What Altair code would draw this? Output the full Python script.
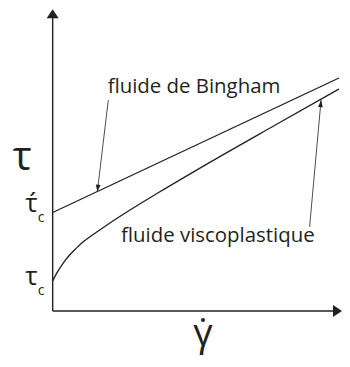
import altair as alt
import pandas as pd

# ---- data (conceptual units: shear rate on x, shear stress tau on y) ----
bingham_x = [0.0, 10.0]
bingham_tau = [4.21, 9.96]

visco_x = [0.0, 0.137, 0.363, 0.592, 0.821, 1.047, 1.389, 1.847, 2.645, 3.671, 5.040, 7.776, 10.0]
visco_tau = [1.282, 1.611, 2.038, 2.393, 2.679, 2.936, 3.248, 3.637, 4.274, 5.043, 6.034, 7.949, 9.487]

label_text = ["fluide de Bingham", "fluide viscoplastique"]
label_x = [1.92, 2.39]
label_tau = [9.30, 2.96]

leader_x0 = [1.943, 8.974]
leader_tau0 = [9.017, 3.603]
leader_x1 = [1.560, 9.374]
leader_tau1 = [5.098, 9.017]
leader_angle = [187, 5]

axis_x_end = 10.105
axis_tau_end = 12.9

X_DOMAIN = [-1.56, 10.105]
Y_DOMAIN = [-2.05, 12.95]

INK = "#231f20"
FONT = "Open Sans"

xs = alt.Scale(domain=X_DOMAIN, nice=False, zero=False)
ys = alt.Scale(domain=Y_DOMAIN, nice=False, zero=False)


def X(f="x"):
    return alt.X(f"{f}:Q", scale=xs, axis=None)


def Y(f="y"):
    return alt.Y(f"{f}:Q", scale=ys, axis=None)


curves = pd.DataFrame(
    {"x": bingham_x + visco_x,
     "y": bingham_tau + visco_tau,
     "s": ["bingham"] * len(bingham_x) + ["visco"] * len(visco_x),
     "o": list(range(len(bingham_x))) + list(range(len(visco_x)))}
)

lines = alt.Chart(curves).mark_line(
    color=INK, strokeWidth=1.3, interpolate="monotone"
).encode(x=X(), y=Y(), detail="s:N", order="o:Q")

# axes
axes_df = pd.DataFrame({
    "x": [0.0, 0.0], "y": [0.0, 0.0],
    "x2": [0.0, axis_x_end - 0.25], "y2": [axis_tau_end - 0.3, 0.0]
})
axes = alt.Chart(axes_df).mark_rule(color=INK, strokeWidth=1.4).encode(
    x=X(), y=Y(), x2="x2:Q", y2="y2:Q"
)

head_shape = "M0,0L-0.67,1L0.67,1Z"
axis_heads_df = pd.DataFrame({"x": [0.0, axis_x_end], "y": [axis_tau_end, 0.0], "a": [0, 90]})
axis_heads = alt.Chart(axis_heads_df).mark_point(
    shape=head_shape, filled=True, color=INK, opacity=1, size=324
).encode(x=X(), y=Y(), angle=alt.Angle("a:Q", scale=None))

# leaders
leaders_df = pd.DataFrame({"x": leader_x0, "y": leader_tau0, "x2": leader_x1, "y2": leader_tau1,
                           "a": leader_angle})
leaders = alt.Chart(leaders_df).mark_rule(color=INK, strokeWidth=0.8).encode(
    x=X(), y=Y(), x2="x2:Q", y2="y2:Q"
)
leader_heads = alt.Chart(leaders_df).mark_point(
    shape="M0,0L-0.5,1.5L0.5,1.5Z", filled=True, color=INK, opacity=1, size=90
).encode(x=X("x2"), y=Y("y2"), angle=alt.Angle("a:Q", scale=None))

labels_df = pd.DataFrame({"x": label_x, "y": label_tau, "t": label_text})
labels = alt.Chart(labels_df).mark_text(
    align="left", baseline="alphabetic", font=FONT, fontSize=20.4, color=INK
).encode(x=X(), y=Y(), text="t:N")

# axis symbols
big_tau = alt.Chart(pd.DataFrame({"x": [-1.067], "y": [6.03], "t": ["τ"]})).mark_text(
    align="center", baseline="alphabetic", font=FONT, fontSize=40, color=INK
).encode(x=X(), y=Y(), text="t:N")

tau_small = alt.Chart(pd.DataFrame({"x": [-0.742, -0.742], "y": [4.23, 1.11], "t": ["τ́", "τ"]})).mark_text(
    align="center", baseline="alphabetic", font=FONT, fontSize=26, color=INK
).encode(x=X(), y=Y(), text="t:N")

subs = alt.Chart(pd.DataFrame({"x": [-0.52, -0.52], "y": [3.80, 0.68], "t": ["c", "c"]})).mark_text(
    align="left", baseline="alphabetic", font=FONT, fontSize=14, color=INK
).encode(x=X(), y=Y(), text="t:N")

gamma = alt.Chart(pd.DataFrame({"x": [5.25], "y": [-1.50], "t": ["γ"]})).mark_text(
    align="center", baseline="alphabetic", font=FONT, fontSize=38, color=INK
).encode(x=X(), y=Y(), text="t:N")

gamma_dot = alt.Chart(pd.DataFrame({"x": [5.25], "y": [-0.38]})).mark_point(
    shape="circle", filled=True, color=INK, opacity=1, size=16
).encode(x=X(), y=Y())

chart = alt.layer(
    axes, axis_heads, lines, leaders, leader_heads, labels,
    big_tau, tau_small, subs, gamma, gamma_dot
).properties(
    width=334, height=351, padding=0, background="white",
    autosize=alt.AutoSizeParams(type="none")
).configure_view(stroke=None)

chart.save("out.html", embed_options={"renderer": "svg", "actions": False})
